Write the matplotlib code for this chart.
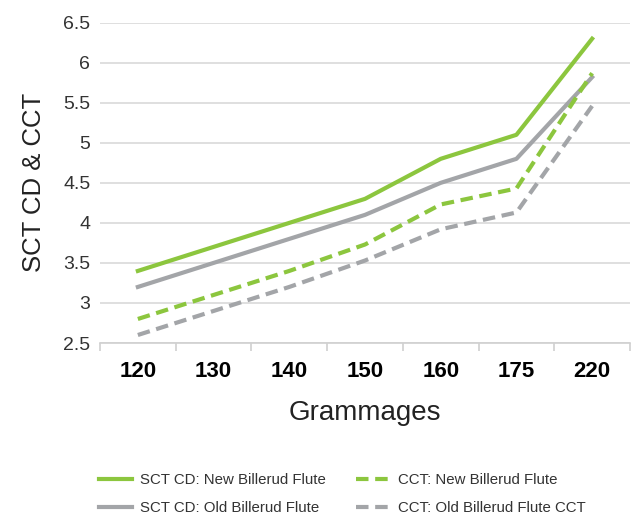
import matplotlib.pyplot as plt
import numpy as np

plt.rcParams['font.family'] = ['Liberation Sans', 'DejaVu Sans']

grammages = ['120', '130', '140', '150', '160', '175', '220']
sct_new = [3.4, 3.7, 4.0, 4.3, 4.8, 5.1, 6.3]
sct_old = [3.2, 3.5, 3.8, 4.1, 4.5, 4.8, 5.82]
cct_new = [2.8, 3.1, 3.4, 3.73, 4.23, 4.43, 5.87]
cct_old = [2.6, 2.9, 3.2, 3.53, 3.92, 4.13, 5.46]

green = '#8cc63e'
grey = '#a3a5a8'

fig = plt.figure(figsize=(6.31, 5.16), dpi=100)
ax = fig.add_axes([100/631, 1-343/516, 530/631, (343-22.7)/516])

x = np.arange(len(grammages))
ax.plot(x, sct_new, color=green, lw=3, label='SCT CD: New Billerud Flute')
ax.plot(x, sct_old, color=grey, lw=3, label='SCT CD: Old Billerud Flute')
ax.plot(x, cct_new, color=green, lw=3, dashes=(3, 1.6), label='CCT: New Billerud Flute')
ax.plot(x, cct_old, color=grey, lw=3, dashes=(3, 1.6), label='CCT: Old Billerud Flute CCT')

ax.set_xlim(-0.5, 6.5)
ax.set_ylim(2.5, 6.5)
ax.set_yticks(np.arange(2.5, 6.51, 0.5))
ax.set_yticklabels(['2.5', '3', '3.5', '4', '4.5', '5', '5.5', '6', '6.5'])
ax.yaxis.grid(True, color='#d9d9d9', lw=1.2)
ax.set_axisbelow(True)

ax.set_xticks(x)
ax.set_xticklabels(grammages, fontweight='bold')
ax.set_xticks(np.arange(-0.5, 6.6, 1), minor=True)
ax.tick_params(axis='x', which='major', length=0, pad=13, labelsize=16)
ax.tick_params(axis='x', which='minor', length=6, color='#d0d0d0', width=1.2)
ax.tick_params(axis='y', length=0, pad=7, labelsize=14, labelcolor='#333333')

for s in ['top', 'right', 'left']:
    ax.spines[s].set_visible(False)
ax.spines['bottom'].set_color('#d0d0d0')
ax.spines['bottom'].set_linewidth(1.2)

ax.set_xlabel('Grammages', fontsize=20, labelpad=13, color='#222222')
ax.set_ylabel('SCT CD & CCT', fontsize=18.5, labelpad=12, color='#222222')

fig.legend(loc='upper left', bbox_to_anchor=(85/631, 1-460/516), ncol=2,
           frameon=False, fontsize=10.8, handlelength=2.2, handletextpad=0.6,
           columnspacing=2.0, labelspacing=0.9, labelcolor='#333333')

fig.savefig('out.png', dpi=100)
